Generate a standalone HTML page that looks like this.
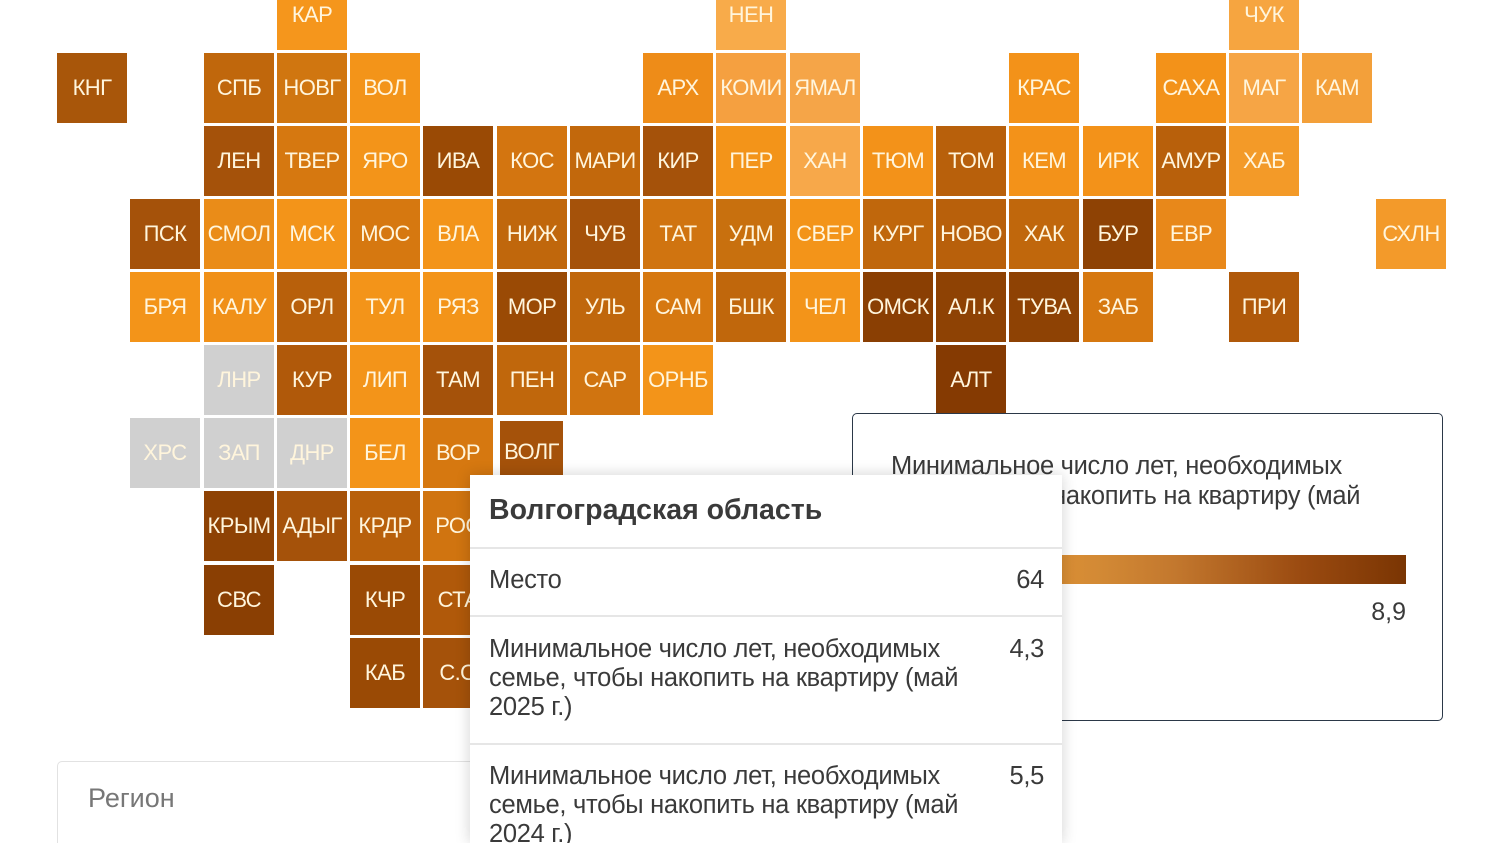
<!DOCTYPE html>
<html><head><meta charset="utf-8"><style>
html,body{margin:0;width:1500px;height:843px;overflow:hidden}
body{background:#fff;position:relative;font-family:"Liberation Sans","DejaVu Sans",sans-serif}
.c{position:absolute;width:70px;height:70px;line-height:70px;text-align:center;color:#fff5dc;font-size:22px;letter-spacing:-0.6px;white-space:nowrap;overflow:hidden}
.g{background:#d0d0d0}
#leg{position:absolute;left:852px;top:413px;width:589px;height:306px;border:1.5px solid #2b3848;border-radius:5px;background:#fff}
#tip{position:absolute;left:470px;top:475px;width:592px;height:368px;background:#fff;box-shadow:0 0 14px rgba(0,0,0,0.18);color:#3a3a3a;overflow:hidden}
.row{position:absolute;left:19px;right:18px;font-size:25.5px;line-height:29px;letter-spacing:-0.3px}
.v{position:absolute;right:0;top:0}
.sep{position:absolute;left:0;right:0;height:2px;background:#e6e6e6}
</style></head><body>
<div class="c" style="left:277px;top:-20px;background:#f5961c">КАР</div>
<div class="c" style="left:716px;top:-20px;background:#f8ab4a">НЕН</div>
<div class="c" style="left:1229px;top:-20px;background:#f6a540">ЧУК</div>

<div class="c" style="left:57px;top:53px;background:#a8560a">КНГ</div>
<div class="c" style="left:204px;top:53px;background:#c0670c">СПБ</div>
<div class="c" style="left:277px;top:53px;background:#d07610">НОВГ</div>
<div class="c" style="left:350px;top:53px;background:#f39419">ВОЛ</div>
<div class="c" style="left:643px;top:53px;background:#ee8c18">АРХ</div>
<div class="c" style="left:716px;top:53px;background:#f5a040">КОМИ</div>
<div class="c" style="left:790px;top:53px;background:#f5a548">ЯМАЛ</div>
<div class="c" style="left:1009px;top:53px;background:#f39219">КРАС</div>
<div class="c" style="left:1156px;top:53px;background:#f39219">САХА</div>
<div class="c" style="left:1229px;top:53px;background:#f6a545">МАГ</div>
<div class="c" style="left:1302px;top:53px;background:#f3a03a">КАМ</div>

<div class="c" style="left:204px;top:126px;background:#a5520a">ЛЕН</div>
<div class="c" style="left:277px;top:126px;background:#d67810">ТВЕР</div>
<div class="c" style="left:350px;top:126px;background:#f39419">ЯРО</div>
<div class="c" style="left:423px;top:126px;background:#9a4a05">ИВА</div>
<div class="c" style="left:497px;top:126px;background:#d37510">КОС</div>
<div class="c" style="left:570px;top:126px;background:#c2680c">МАРИ</div>
<div class="c" style="left:643px;top:126px;background:#a5520a">КИР</div>
<div class="c" style="left:716px;top:126px;background:#f39419">ПЕР</div>
<div class="c" style="left:790px;top:126px;background:#f7a84a">ХАН</div>
<div class="c" style="left:863px;top:126px;background:#f39219">ТЮМ</div>
<div class="c" style="left:936px;top:126px;background:#b8600b">ТОМ</div>
<div class="c" style="left:1009px;top:126px;background:#f39219">КЕМ</div>
<div class="c" style="left:1083px;top:126px;background:#f39219">ИРК</div>
<div class="c" style="left:1156px;top:126px;background:#b8600b">АМУР</div>
<div class="c" style="left:1229px;top:126px;background:#f39a28">ХАБ</div>

<div class="c" style="left:130px;top:199px;background:#a5520a">ПСК</div>
<div class="c" style="left:204px;top:199px;background:#ea8c18">СМОЛ</div>
<div class="c" style="left:277px;top:199px;background:#f39419">МСК</div>
<div class="c" style="left:350px;top:199px;background:#d67810">МОС</div>
<div class="c" style="left:423px;top:199px;background:#f39419">ВЛА</div>
<div class="c" style="left:497px;top:199px;background:#c0670c">НИЖ</div>
<div class="c" style="left:570px;top:199px;background:#a5520a">ЧУВ</div>
<div class="c" style="left:643px;top:199px;background:#d07410">ТАТ</div>
<div class="c" style="left:716px;top:199px;background:#c8700e">УДМ</div>
<div class="c" style="left:790px;top:199px;background:#f39419">СВЕР</div>
<div class="c" style="left:863px;top:199px;background:#c0670c">КУРГ</div>
<div class="c" style="left:936px;top:199px;background:#b8600b">НОВО</div>
<div class="c" style="left:1009px;top:199px;background:#c0670c">ХАК</div>
<div class="c" style="left:1083px;top:199px;background:#8e4204">БУР</div>
<div class="c" style="left:1156px;top:199px;background:#e8881a">ЕВР</div>
<div class="c" style="left:1376px;top:199px;background:#f39a2a">СХЛН</div>

<div class="c" style="left:130px;top:272px;background:#f39419">БРЯ</div>
<div class="c" style="left:204px;top:272px;background:#f09018">КАЛУ</div>
<div class="c" style="left:277px;top:272px;background:#b8600b">ОРЛ</div>
<div class="c" style="left:350px;top:272px;background:#f39419">ТУЛ</div>
<div class="c" style="left:423px;top:272px;background:#f39419">РЯЗ</div>
<div class="c" style="left:497px;top:272px;background:#9a4a05">МОР</div>
<div class="c" style="left:570px;top:272px;background:#c0670c">УЛЬ</div>
<div class="c" style="left:643px;top:272px;background:#d67810">САМ</div>
<div class="c" style="left:716px;top:272px;background:#c0670c">БШК</div>
<div class="c" style="left:790px;top:272px;background:#f39419">ЧЕЛ</div>
<div class="c" style="left:863px;top:272px;background:#8a3f03">ОМСК</div>
<div class="c" style="left:936px;top:272px;background:#8e4204">АЛ.К</div>
<div class="c" style="left:1009px;top:272px;background:#8e4204">ТУВА</div>
<div class="c" style="left:1083px;top:272px;background:#d67810">ЗАБ</div>
<div class="c" style="left:1229px;top:272px;background:#b0590a">ПРИ</div>

<div class="c g" style="left:204px;top:345px">ЛНР</div>
<div class="c" style="left:277px;top:345px;background:#b0590a">КУР</div>
<div class="c" style="left:350px;top:345px;background:#f39419">ЛИП</div>
<div class="c" style="left:423px;top:345px;background:#a5520a">ТАМ</div>
<div class="c" style="left:497px;top:345px;background:#c0670c">ПЕН</div>
<div class="c" style="left:570px;top:345px;background:#d07410">САР</div>
<div class="c" style="left:643px;top:345px;background:#f39419">ОРНБ</div>
<div class="c" style="left:936px;top:345px;background:#853a02">АЛТ</div>

<div class="c g" style="left:130px;top:418px">ХРС</div>
<div class="c g" style="left:204px;top:418px">ЗАП</div>
<div class="c g" style="left:277px;top:418px">ДНР</div>
<div class="c" style="left:350px;top:418px;background:#f39419">БЕЛ</div>
<div class="c" style="left:423px;top:418px;background:#d67810">ВОР</div>
<div class="c" style="left:500px;top:421px;width:63px;height:56px;line-height:62px;background:#a5520a">ВОЛГ</div>

<div class="c" style="left:204px;top:491px;background:#8e4204">КРЫМ</div>
<div class="c" style="left:277px;top:491px;background:#a5520a">АДЫГ</div>
<div class="c" style="left:350px;top:491px;background:#b8600b">КРДР</div>
<div class="c" style="left:423px;top:491px;background:#d07410">РОС</div>

<div class="c" style="left:204px;top:565px;background:#8a3f03">СВС</div>
<div class="c" style="left:350px;top:565px;background:#9a4a05">КЧР</div>
<div class="c" style="left:423px;top:565px;background:#b0590a">СТА</div>

<div class="c" style="left:350px;top:638px;background:#9a4a05">КАБ</div>
<div class="c" style="left:423px;top:638px;background:#a5520a">С.О</div>

<div style="position:absolute;left:57px;top:761px;width:600px;height:100px;border:1.5px solid #e2e2e2;border-radius:5px"></div>
<div style="position:absolute;left:88px;top:783px;font-size:27px;color:#777">Регион</div>

<div id="leg">
<div style="position:absolute;left:38px;top:37px;font-size:25.5px;line-height:30px;letter-spacing:-0.3px;color:#3a3a3a;white-space:nowrap">Минимальное число лет, необходимых<br>семье, чтобы накопить на квартиру (май<br>2025 г.)</div>
<div style="position:absolute;left:38px;top:141px;width:515px;height:29px;background:linear-gradient(90deg,#f7a030,#d38a35 40%,#c3782e 55%,#9a4a10 80%,#7a3503)"></div>
<div style="position:absolute;right:36px;top:184px;font-size:25px;color:#3a3a3a">8,9</div>
<div style="position:absolute;left:38px;top:196px;font-size:25px;color:#3a3a3a">4,3</div>
<div style="position:absolute;left:70px;top:237px;font-size:25px;color:#3a3a3a">Нет данных</div>
</div>

<div id="tip">
<div style="position:absolute;left:19px;top:19px;font-size:28.5px;font-weight:bold;color:#3a3a3a;white-space:nowrap">Волгоградская область</div>
<div class="sep" style="top:72px"></div>
<div class="row" style="top:91px">Место<span class="v">64</span></div>
<div class="sep" style="top:140px"></div>
<div class="row" style="top:160px">Минимальное число лет, необходимых<br>семье, чтобы накопить на квартиру (май<br>2025 г.)<span class="v">4,3</span></div>
<div class="sep" style="top:268px"></div>
<div class="row" style="top:287px">Минимальное число лет, необходимых<br>семье, чтобы накопить на квартиру (май<br>2024 г.)<span class="v">5,5</span></div>
</div>
</body></html>
